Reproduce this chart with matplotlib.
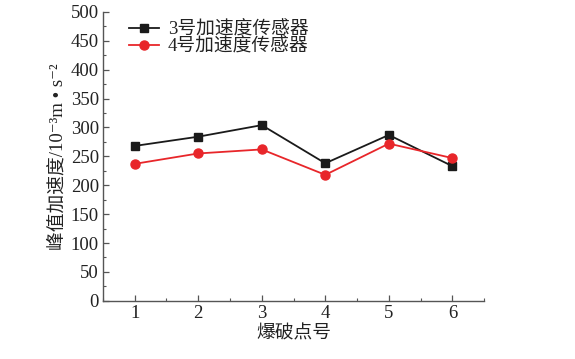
import matplotlib
matplotlib.use('Agg')
import matplotlib.pyplot as plt
from matplotlib.ticker import MultipleLocator

plt.rcParams['font.family'] = ['Liberation Serif', 'Noto Sans CJK SC', 'DejaVu Sans']

# data
points = [1, 2, 3, 4, 5, 6]
sensor3 = [268, 284, 304, 238, 287, 233]
sensor4 = [237, 255, 262, 218, 272, 247]

fig = plt.figure(figsize=(5.75, 3.59), dpi=100)
ax = fig.add_axes([0.179, 0.162, 0.663, 0.805])

ax.plot(points, sensor3, color='#1a1a1a', marker='s', markersize=6, lw=1.3, label='3号加速度传感器')
ax.plot(points, sensor4, color='#e8262a', marker='o', markersize=6.5, lw=1.3, label='4号加速度传感器')

ax.set_xlim(0.5, 6.5)
ax.set_ylim(0, 500)
ax.xaxis.set_major_locator(MultipleLocator(1))
ax.xaxis.set_minor_locator(MultipleLocator(0.5))
ax.yaxis.set_major_locator(MultipleLocator(50))
ax.yaxis.set_minor_locator(MultipleLocator(25))

ax.spines['top'].set_visible(False)
ax.spines['right'].set_visible(False)
for s in ['left', 'bottom']:
    ax.spines[s].set_color('#555555')
    ax.spines[s].set_linewidth(1.0)

ax.tick_params(which='major', direction='in', length=4, width=0.9, colors='#555555',
               labelcolor='#222222', labelsize=13.5, pad=3)
ax.tick_params(which='minor', direction='in', length=2.5, width=0.8, colors='#555555')

ax.set_xlabel('爆破点号', fontsize=13.5, color='#222222', labelpad=2)
ax.set_ylabel('峰值加速度/10⁻³m • s⁻²', fontsize=13.5, color='#222222', labelpad=3)

leg = ax.legend(loc='upper left', bbox_to_anchor=(0.05, 0.995), frameon=False, fontsize=13.5,
                handlelength=1.6, handletextpad=0.45, labelspacing=0.0, borderaxespad=0)
for t in leg.get_texts():
    t.set_color('#222222')

fig.savefig('out.png', dpi=100)
